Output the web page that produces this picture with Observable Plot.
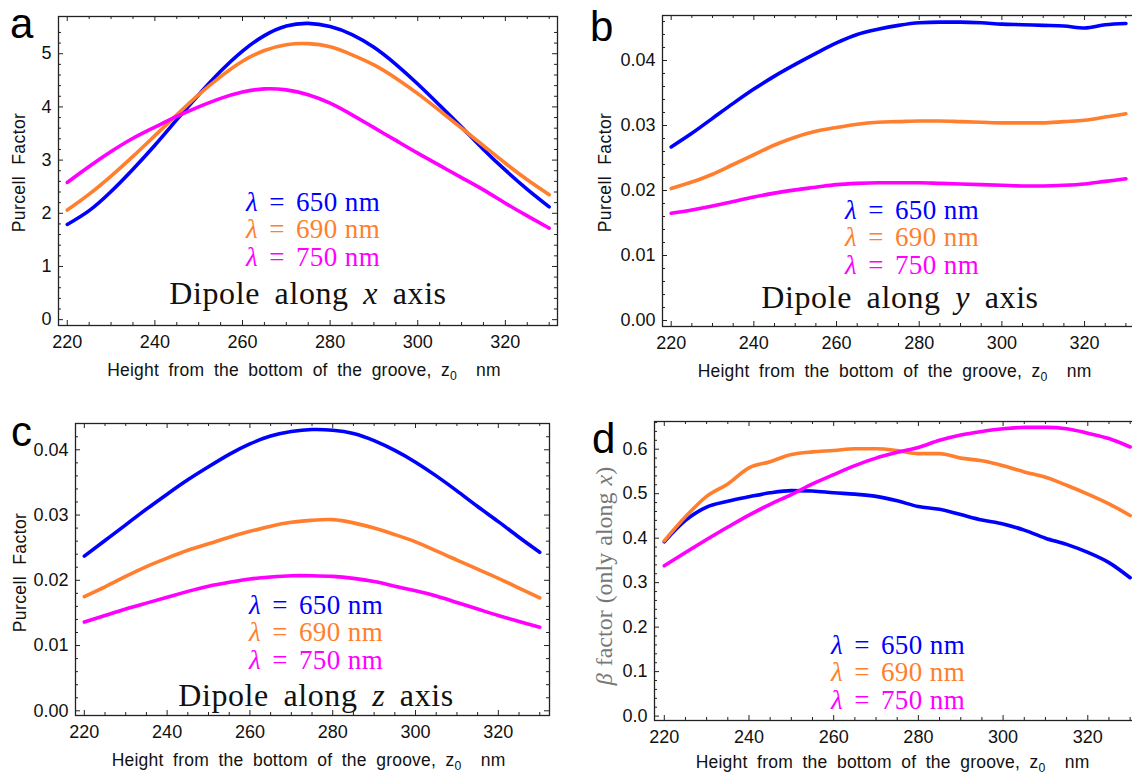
<!DOCTYPE html>
<html><head><meta charset="utf-8">
<script src="https://cdn.jsdelivr.net/npm/d3@7"></script>
<script src="https://cdn.jsdelivr.net/npm/@observablehq/plot@0.6"></script>
<style>
body{margin:0;background:#fff;}
#fig{position:relative;width:1132px;height:774px;overflow:hidden;background:#fff;}
.panel{position:absolute;}
.t{position:absolute;white-space:nowrap;}
.lbl{font-family:'Liberation Sans',Arial,sans-serif;font-size:42px;line-height:42px;color:#000;}
.leg{font-family:'Liberation Serif','Times New Roman',serif;font-size:27px;line-height:27px;text-align:center;width:400px;letter-spacing:0.4px;}
.dip{font-family:'Liberation Serif','Times New Roman',serif;font-size:32px;line-height:32px;text-align:center;width:500px;word-spacing:6px;letter-spacing:0.6px;color:#111;}
.xt{font-family:'Liberation Sans',Arial,sans-serif;font-size:17.5px;line-height:17px;text-align:center;width:500px;word-spacing:4.5px;letter-spacing:0.2px;color:#111;}
.yt{font-family:'Liberation Sans',Arial,sans-serif;font-size:17.5px;line-height:17px;text-align:center;width:300px;word-spacing:6px;letter-spacing:0.4px;color:#111;transform:rotate(-90deg);}
.yb{font-family:'Liberation Serif','Times New Roman',serif;font-size:24px;line-height:24px;text-align:center;width:300px;color:#777;transform:rotate(-90deg);word-spacing:1px;}
sub{font-size:70%;vertical-align:-0.3em;line-height:0;}
</style></head>
<body><div id="fig"></div>
<script>
// ---------------- data ----------------
const z = [220,225,230,235,240,245,250,255,260,265,270,275,280,285,290,295,300,305,310,315,320,325,330];
const seriesNames = ["λ = 650 nm","λ = 690 nm","λ = 750 nm"];
const seriesColors = ["#0000ff","#ff7f2e","#ff00ff"];

// (a) Purcell factor, dipole along x
const aBlue    = [1.79,2.05,2.41,2.83,3.28,3.76,4.23,4.67,5.05,5.34,5.52,5.57,5.51,5.36,5.12,4.80,4.43,4.03,3.62,3.20,2.81,2.45,2.12];
const aOrange  = [2.06,2.36,2.70,3.07,3.46,3.85,4.23,4.57,4.86,5.06,5.17,5.19,5.13,4.98,4.79,4.54,4.25,3.93,3.60,3.27,2.94,2.63,2.35];
const aMagenta = [2.58,2.88,3.16,3.41,3.62,3.82,4.00,4.16,4.28,4.34,4.32,4.23,4.07,3.85,3.61,3.37,3.13,2.90,2.67,2.44,2.19,1.95,1.72];
// (b) Purcell factor, dipole along y
const bBlue    = [0.0267,0.0288,0.0311,0.0334,0.0356,0.0376,0.0394,0.0411,0.0427,0.0440,0.0448,0.0454,0.0458,0.0459,0.0459,0.0458,0.0456,0.0455,0.0454,0.0453,0.0450,0.0455,0.0457];
const bOrange  = [0.0203,0.0213,0.0225,0.0240,0.0255,0.0270,0.0282,0.0291,0.0297,0.0302,0.0305,0.0306,0.0307,0.0307,0.0306,0.0305,0.0304,0.0304,0.0304,0.0306,0.0308,0.0313,0.0318];
const bMagenta = [0.0165,0.0170,0.0176,0.0183,0.0190,0.0196,0.0201,0.0205,0.0209,0.0211,0.0212,0.0212,0.0212,0.0211,0.0210,0.0209,0.0208,0.0207,0.0207,0.0208,0.0210,0.0214,0.0218];
// (c) Purcell factor, dipole along z
const cBlue    = [0.0237,0.0261,0.0285,0.0309,0.0332,0.0354,0.0374,0.0393,0.0409,0.0421,0.0428,0.0431,0.0430,0.0425,0.0414,0.0399,0.0381,0.0360,0.0337,0.0313,0.0290,0.0266,0.0243];
const cOrange  = [0.0175,0.0190,0.0206,0.0221,0.0234,0.0246,0.0256,0.0266,0.0275,0.0283,0.0289,0.0292,0.0293,0.0288,0.0280,0.0270,0.0259,0.0245,0.0231,0.0217,0.0203,0.0188,0.0173];
const cMagenta = [0.0136,0.0146,0.0156,0.0165,0.0174,0.0183,0.0191,0.0197,0.0202,0.0205,0.0207,0.0207,0.0206,0.0203,0.0198,0.0191,0.0184,0.0176,0.0166,0.0156,0.0146,0.0137,0.0128];
// (d) beta factor (only along x)
const dBlue    = [0.392,0.440,0.470,0.483,0.493,0.502,0.507,0.506,0.502,0.499,0.494,0.484,0.471,0.465,0.453,0.441,0.432,0.418,0.400,0.386,0.368,0.345,0.311];
const dOrange  = [0.394,0.448,0.494,0.522,0.558,0.572,0.588,0.594,0.597,0.601,0.601,0.597,0.590,0.590,0.580,0.574,0.563,0.549,0.537,0.519,0.499,0.477,0.451];
const dMagenta = [0.338,0.368,0.397,0.425,0.452,0.476,0.498,0.522,0.543,0.563,0.580,0.593,0.604,0.620,0.632,0.640,0.646,0.649,0.649,0.646,0.636,0.624,0.605];

// ticks
const xMajor = [220,240,260,280,300,320];
const xLabels = ["220","240","260","280","300","320"];
const xMinor = d3.range(220, 331, 5).filter(v => v % 20 !== 0);
const aTicks = [0,1,2,3,4,5], aLabels = ["0","1","2","3","4","5"];
const bTicks = [0,0.01,0.02,0.03,0.04], bLabels = ["0.00","0.01","0.02","0.03","0.04"];
const dTicks = [0,0.1,0.2,0.3,0.4,0.5,0.6], dLabels = ["0.0","0.1","0.2","0.3","0.4","0.5","0.6"];
const aMinor = d3.range(0, 28).map(i => i*0.2).filter(v => Math.abs(v - Math.round(v)) > 1e-6);
const bMinor = d3.range(0, 24).map(i => i*0.002).filter((v,i) => i % 5 !== 0);
const dMinor = d3.range(0, 34).map(i => i*0.02).filter((v,i) => i % 5 !== 0);

function panel(cfg){
  const {width,height,mL,mR,mT,mB,xDom,yDom,lines,yT,yL,yMin,right,curve} = cfg;
  const pw = width - mL - mR, ph = height - mT - mB;
  const tk = "#222";
  const marks = [];
  lines.forEach((vals,i) => {
    const rows = z.map((x,j) => ({z:x, v:vals[j], s:seriesNames[i]}));
    marks.push(Plot.line(rows, {x:"z", y:"v", stroke:seriesColors[i], strokeWidth:3.6, curve}));
  });
  marks.push(Plot.frame({stroke:"#222", strokeWidth:1.3}));
  marks.push(Plot.tickX(xMajor, {x:d=>d, insetTop: ph-5, stroke:tk}));
  marks.push(Plot.tickX(xMinor, {x:d=>d, insetTop: ph-3, stroke:tk}));
  marks.push(Plot.tickX(xMajor, {x:d=>d, insetBottom: ph-5, stroke:tk}));
  marks.push(Plot.tickX(xMinor, {x:d=>d, insetBottom: ph-3, stroke:tk}));
  marks.push(Plot.tickY(yT, {y:d=>d, insetRight: pw-5, stroke:tk}));
  marks.push(Plot.tickY(yMin, {y:d=>d, insetRight: pw-3, stroke:tk}));
  if (right) {
    marks.push(Plot.tickY(yT, {y:d=>d, insetLeft: pw-5, stroke:tk}));
    marks.push(Plot.tickY(yMin, {y:d=>d, insetLeft: pw-3, stroke:tk}));
  }
  marks.push(Plot.axisX({ticks:xMajor, tickSize:0, tickPadding:10, label:null, fontSize:18, tickFormat:d=>xLabels[xMajor.indexOf(d)]}));
  marks.push(Plot.axisY({ticks:yT, tickSize:0, tickPadding:7, label:null, fontSize:18, tickFormat:d=>yL[yT.indexOf(d)]}));
  return Plot.plot({
    width, height, marginLeft:mL, marginRight:mR, marginTop:mT, marginBottom:mB,
    x:{domain:xDom}, y:{domain:yDom},
    style:{fontFamily:"'Liberation Sans', Arial, sans-serif", fontSize:"18px", color:"#111", background:"transparent", overflow:"visible"},
    marks
  });
}

const fig = document.getElementById("fig");
function place(node, left, top, w){
  const d = document.createElement("div");
  d.className = "panel"; d.style.left = left+"px"; d.style.top = top+"px"; d.style.width = w+"px";
  d.appendChild(node); fig.appendChild(d);
}
place(panel({width:566,height:387,mL:58,mR:9,mT:16,mB:62,xDom:[218.0,331.9],yDom:[-0.11,5.70],lines:[aBlue,aOrange,aMagenta],yT:aTicks,yL:aLabels,yMin:aMinor,right:true,curve:"natural"}), 0, 0, 566);
place(panel({width:580,height:387,mL:96,mR:2,mT:15,mB:61,xDom:[217.9,334.5],yDom:[-0.00092,0.04692],lines:[bBlue,bOrange,bMagenta],yT:bTicks,yL:bLabels,yMin:bMinor,right:false,curve:"monotone-x"}), 566, 0, 580);
place(panel({width:566,height:387,mL:75,mR:17,mT:36,mB:59,xDom:[217.87,332.36],yDom:[-0.00072,0.04403],lines:[cBlue,cOrange,cMagenta],yT:bTicks,yL:bLabels,yMin:bMinor.filter(v=>v<0.044),right:true,curve:"natural"}), 0, 387, 566);
place(panel({width:580,height:387,mL:88,mR:2,mT:34,mB:54,xDom:[217.69,333.39],yDom:[-0.0099,0.6623],lines:[dBlue,dOrange,dMagenta],yT:dTicks,yL:dLabels,yMin:dMinor,right:false,curve:"monotone-x"}), 566, 387, 580);

// ---------------- text overlays ----------------
function txt(cls, html, left, top, color){
  const d = document.createElement("div");
  d.className = "t " + cls; d.innerHTML = html;
  d.style.left = left+"px"; d.style.top = top+"px";
  if (color) d.style.color = color;
  fig.appendChild(d);
}
txt("lbl","a",10,2.7); txt("lbl","b",590,6); txt("lbl","c",11,411); txt("lbl","d",592,418);
function legend(cx, cys){
  seriesNames.forEach((n,i) => {
    const parts = n.split(" = ");
    const html = `<i>${parts[0]}</i>&nbsp;<span style="margin:0 4px">=</span>&nbsp;${parts[1]}`;
    txt("leg", html, cx-200, cys[i]-13.5, seriesColors[i]);
  });
}
legend(313,[202,229.5,257]);
legend(912,[210,237.5,265]);
legend(316,[605,632.5,660]);
legend(898,[645,672.5,700]);
function dip(cx, cy, ax){ txt("dip", `Dipole along <i>${ax}</i> axis`, cx-250, cy-16); }
dip(308,292.5,"x"); dip(900,297,"y"); dip(316,695,"z");
const xTitle = "Height from the bottom of the groove, z<sub>0</sub>&nbsp; nm";
txt("xt", xTitle, 304-250, 370-8.5); txt("xt", xTitle, 894.6-250, 371.7-8.5);
txt("xt", xTitle, 308.6-250, 760.3-8.5); txt("xt", xTitle, 892.6-250, 762-8.5);
txt("yt","Purcell Factor",19-150,172-8.5); txt("yt","Purcell Factor",605-150,172-8.5); txt("yt","Purcell Factor",20-150,572-8.5);
txt("yb","<i>β</i> factor (only along <i>x</i>)",604-150,576-12);
</script>
</body></html>
